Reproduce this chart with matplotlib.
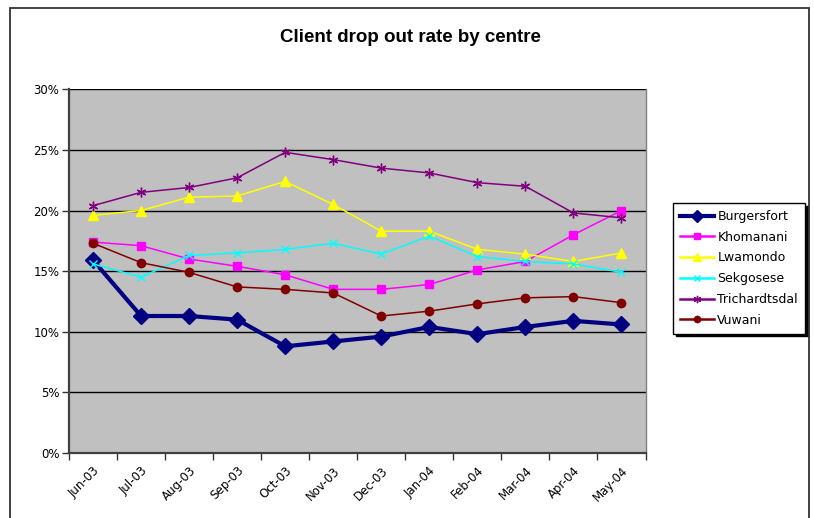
import matplotlib
matplotlib.use("Agg")
import matplotlib.pyplot as plt
from matplotlib.patches import Rectangle
from matplotlib.ticker import FuncFormatter, FixedLocator, NullFormatter

months = ["Jun-03", "Jul-03", "Aug-03", "Sep-03", "Oct-03", "Nov-03",
          "Dec-03", "Jan-04", "Feb-04", "Mar-04", "Apr-04", "May-04"]

burgersfort = [15.9, 11.3, 11.3, 11.0, 8.8, 9.2, 9.6, 10.4, 9.8, 10.4, 10.9, 10.6]
khomanani = [17.4, 17.1, 16.0, 15.4, 14.7, 13.5, 13.5, 13.9, 15.1, 15.8, 18.0, 20.0]
lwamondo = [19.6, 20.0, 21.1, 21.2, 22.4, 20.5, 18.3, 18.3, 16.8, 16.4, 15.8, 16.5]
sekgosese = [15.6, 14.5, 16.3, 16.5, 16.8, 17.3, 16.4, 17.9, 16.2, 15.8, 15.6, 14.9]
trichardtsdal = [20.4, 21.5, 21.9, 22.7, 24.8, 24.2, 23.5, 23.1, 22.3, 22.0, 19.8, 19.4]
vuwani = [17.3, 15.7, 14.9, 13.7, 13.5, 13.2, 11.3, 11.7, 12.3, 12.8, 12.9, 12.4]

series = [
    ("Burgersfort", burgersfort, "#000080", 3.0, "D", 8.0),
    ("Khomanani", khomanani, "#FF00FF", 1.1, "s", 5.5),
    ("Lwamondo", lwamondo, "#FFFF00", 1.1, "^", 7.0),
    ("Sekgosese", sekgosese, "#00FFFF", 1.1, "x", 6.0),
    ("Trichardtsdal", trichardtsdal, "#800080", 1.1, (6, 2, 0), 7.0),
    ("Vuwani", vuwani, "#800000", 1.1, "o", 6.0),
]

fig = plt.figure(figsize=(8.14, 5.18), dpi=100)
fig.patch.set_facecolor("white")

# outer chart border
fig.patches.append(Rectangle((9.5 / 814, -0.02), (809 - 9.5) / 814, 1.02 - 8 / 518,
                             transform=fig.transFigure, fill=False,
                             edgecolor="#333333", linewidth=1.3, zorder=0))

ax = fig.add_axes([69 / 814, 1 - 453 / 518, (645.5 - 69) / 814, (453 - 89.3) / 518])
ax.set_facecolor("#C0C0C0")

x = list(range(len(months)))
for name, vals, color, lw, marker, ms in series:
    ax.plot(x, vals, color=color, linewidth=lw, marker=marker, markersize=ms,
            markerfacecolor=color, markeredgecolor=color, markeredgewidth=1.0,
            label=name, zorder=3, clip_on=False)

ax.set_xlim(-0.5, len(months) - 0.5)
ax.set_ylim(0, 30)

# y axis
ax.set_yticks([0, 5, 10, 15, 20, 25, 30])
ax.yaxis.set_major_formatter(FuncFormatter(lambda v, p: f"{int(v)}%"))
ax.yaxis.grid(True, color="#000000", linewidth=1.0)
ax.set_axisbelow(True)

# x axis: ticks between categories, labels centred on categories
ax.xaxis.set_major_locator(FixedLocator([i - 0.5 for i in range(len(months) + 1)]))
ax.xaxis.set_major_formatter(NullFormatter())
ax.xaxis.set_minor_locator(FixedLocator(x))
ax.set_xticklabels(months, minor=True, rotation=45, ha="right",
                   rotation_mode="anchor", fontsize=8.5, family="DejaVu Sans")
ax.tick_params(axis="x", which="minor", length=0, pad=8)
ax.tick_params(axis="x", which="major", length=5, width=1, color="#333333",
               direction="out")
ax.tick_params(axis="y", length=5, width=1, color="#333333", direction="out",
               labelsize=8.5, pad=2)
for lab in ax.get_yticklabels():
    lab.set_family("DejaVu Sans")

for side in ("left", "bottom"):
    ax.spines[side].set_color("#404040")
    ax.spines[side].set_linewidth(1.6)
ax.spines["top"].set_visible(False)
ax.spines["right"].set_color("#808080")
ax.spines["right"].set_linewidth(1.0)

fig.text(410 / 814, 1 - 37 / 518, "Client drop out rate by centre",
         ha="center", va="center", fontsize=13.5, fontweight="bold",
         family="Liberation Sans")

leg = ax.legend(loc="upper left", bbox_to_anchor=(673 / 814, 1 - 203 / 518),
                bbox_transform=fig.transFigure, borderaxespad=0,
                fancybox=False, framealpha=1, edgecolor="black",
                shadow={"color": "black", "ox": 2, "oy": -2, "alpha": 1},
                prop={"family": "DejaVu Sans", "size": 9},
                handlelength=2.7, handletextpad=0.3, labelspacing=0.62,
                borderpad=0.55, markerscale=0.75)
leg.get_frame().set_linewidth(1.0)
for h in leg.get_lines():
    if h.get_linewidth() < 2:
        h.set_linewidth(1.8)

fig.savefig("out.png", dpi=100)
